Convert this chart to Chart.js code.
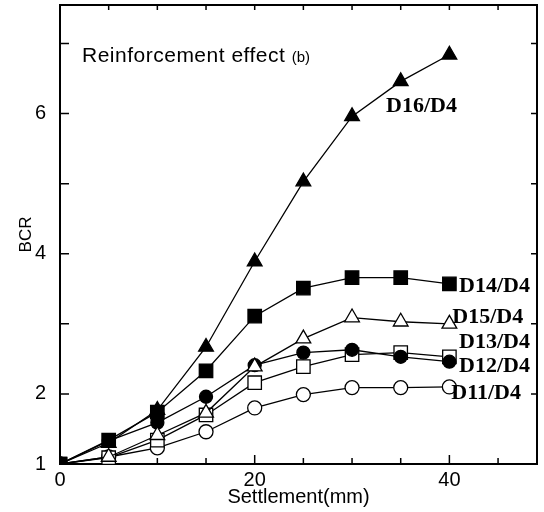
<!DOCTYPE html>
<html>
<head>
<meta charset="utf-8">
<script src="https://cdn.jsdelivr.net/npm/chart.js@4"></script>
<style>
  html, body { margin: 0; padding: 0; background: #fff; }
  #wrap { width: 544px; height: 512px; }
</style>
</head>
<body>
<div id="wrap"><canvas id="canvas_bcr"></canvas></div>
<script>
// settlement (mm) and BCR readings for each reinforcement case
var settlement = [0, 5, 10, 15, 20, 25, 30, 35, 40];
var bcrD16 = [1.0, 1.30, 1.77, 2.67, 3.89, 5.03, 5.96, 6.46, 6.84];
var bcrD14 = [1.0, 1.34, 1.74, 2.33, 3.11, 3.51, 3.66, 3.66, 3.57];
var bcrD15 = [1.0, 1.10, 1.41, 1.73, 2.39, 2.79, 3.09, 3.03, 3.00];
var bcrD13 = [1.0, 1.33, 1.59, 1.96, 2.41, 2.59, 2.63, 2.53, 2.46];
var bcrD12 = [1.0, 1.09, 1.34, 1.70, 2.16, 2.39, 2.56, 2.59, 2.53];
var bcrD11 = [1.0, 1.10, 1.23, 1.46, 1.80, 1.99, 2.09, 2.09, 2.10];
var seriesNames = ['D16/D4', 'D14/D4', 'D15/D4', 'D13/D4', 'D12/D4', 'D11/D4'];

var xTickValues = [0, 5, 10, 15, 20, 25, 30, 35, 40, 45];
var xTickLabels = ['0', '', '', '', '20', '', '', '', '40', ''];
var yTickValues = [1, 2, 3, 4, 5, 6, 7];
var yTickLabels = ['1', '2', '', '4', '', '6', ''];

var panelTitle = 'Reinforcement effect';
var panelTag = '(b)';

// where each curve name sits, in data units
var nameAnchors = [[33.5, 6.1], [41.0, 3.53], [40.3, 3.1], [41.0, 2.74], [41.0, 2.39], [40.2, 2.01]];

var sans = '"Liberation Sans", Arial, sans-serif';

function serie(name, values, style, filled, radius) {
  return {
    label: name,
    data: settlement.map(function (s, i) { return { x: s, y: values[i] }; }),
    borderColor: '#000',
    borderWidth: 1.3,
    backgroundColor: filled ? '#000' : '#fff',
    pointStyle: style,
    pointRadius: radius,
    pointBorderColor: '#000',
    pointBackgroundColor: filled ? '#000' : '#fff',
    pointBorderWidth: 1.3,
    tension: 0,
    fill: false
  };
}

var frameAndText = {
  id: 'frameAndText',
  beforeDatasetsDraw: function (chart) {
    var ctx = chart.ctx, a = chart.chartArea, x = chart.scales.x, y = chart.scales.y;
    ctx.save();
    ctx.strokeStyle = '#000';
    ctx.lineWidth = 2;
    ctx.strokeRect(a.left, a.top, a.right - a.left, a.bottom - a.top);
    ctx.lineWidth = 1.5;
    ctx.beginPath();
    x.ticks.forEach(function (t) {
      var px = x.getPixelForValue(t.value);
      var len = t.label ? 9 : 6;
      ctx.moveTo(px, a.bottom); ctx.lineTo(px, a.bottom - len);
      ctx.moveTo(px, a.top); ctx.lineTo(px, a.top + 5);
    });
    y.ticks.forEach(function (t) {
      var py = y.getPixelForValue(t.value);
      ctx.moveTo(a.left, py); ctx.lineTo(a.left + 9, py);
      ctx.moveTo(a.right, py); ctx.lineTo(a.right - 6, py);
    });
    ctx.stroke();
    ctx.restore();
  },
  afterDraw: function (chart) {
    var ctx = chart.ctx, a = chart.chartArea, x = chart.scales.x, y = chart.scales.y;
    ctx.save();
    ctx.fillStyle = '#000';
    ctx.textBaseline = 'alphabetic';
    ctx.textAlign = 'left';
    ctx.font = '21px ' + sans;
    ctx.letterSpacing = '0.5px';
    ctx.fillText(panelTitle, a.left + 22, a.top + 57);
    var w = ctx.measureText(panelTitle + ' ').width;
    ctx.letterSpacing = '0px';
    ctx.font = '15px ' + sans;
    ctx.fillText(panelTag, a.left + 22 + w, a.top + 57);

    ctx.font = 'bold 22px "Liberation Serif", "Times New Roman", serif';
    ctx.textBaseline = 'middle';
    seriesNames.forEach(function (n, i) {
      ctx.fillText(n, x.getPixelForValue(nameAnchors[i][0]), y.getPixelForValue(nameAnchors[i][1]));
    });
    ctx.restore();
  }
};

var ctx = document.getElementById('canvas_bcr').getContext('2d');
window.myLine = new Chart(ctx, {
  type: 'line',
  data: {
    datasets: [
      serie(seriesNames[0], bcrD16, 'triangle', true, 8.5),
      serie(seriesNames[1], bcrD14, 'rect', true, 9.5),
      serie(seriesNames[2], bcrD15, 'triangle', false, 8.5),
      serie(seriesNames[3], bcrD13, 'circle', true, 6.5),
      serie(seriesNames[4], bcrD12, 'rect', false, 9.5),
      serie(seriesNames[5], bcrD11, 'circle', false, 7)
    ]
  },
  options: {
    responsive: true,
    maintainAspectRatio: false,
    animation: false,
    layout: { autoPadding: false, padding: { top: 5, right: 7, left: 0, bottom: 0 } },
    plugins: {
      legend: { display: false },
      tooltip: { enabled: false }
    },
    scales: {
      x: {
        type: 'linear',
        min: 0,
        max: 49,
        afterBuildTicks: function (scale) {
          scale.ticks = xTickValues.map(function (v) { return { value: v }; });
        },
        afterFit: function (scale) {
          scale.height = 48;
          scale.paddingLeft = 0;
          scale.paddingRight = 0;
        },
        grid: { display: false, drawTicks: false },
        border: { display: false },
        ticks: {
          autoSkip: false,
          maxRotation: 0,
          padding: 4,
          color: '#000',
          font: { family: sans, size: 20 },
          callback: function (v, i) { return xTickLabels[i]; }
        },
        title: {
          display: true,
          text: 'Settlement(mm)',
          color: '#000',
          font: { family: sans, size: 20 },
          padding: { top: 0, bottom: 3 }
        }
      },
      y: {
        type: 'linear',
        min: 1,
        max: 7.55,
        afterBuildTicks: function (scale) {
          scale.ticks = yTickValues.map(function (v) { return { value: v }; });
        },
        afterFit: function (scale) {
          scale.width = 60;
          scale.paddingTop = 0;
          scale.paddingBottom = 0;
        },
        grid: { display: false, drawTicks: false },
        border: { display: false },
        ticks: {
          autoSkip: false,
          padding: 14,
          color: '#000',
          font: { family: sans, size: 20 },
          callback: function (v, i) { return yTickLabels[i]; }
        },
        title: {
          display: true,
          text: 'BCR',
          color: '#000',
          font: { family: sans, size: 17 },
          padding: { top: 16, bottom: 0 }
        }
      }
    }
  },
  plugins: [frameAndText]
});
</script>
</body>
</html>
